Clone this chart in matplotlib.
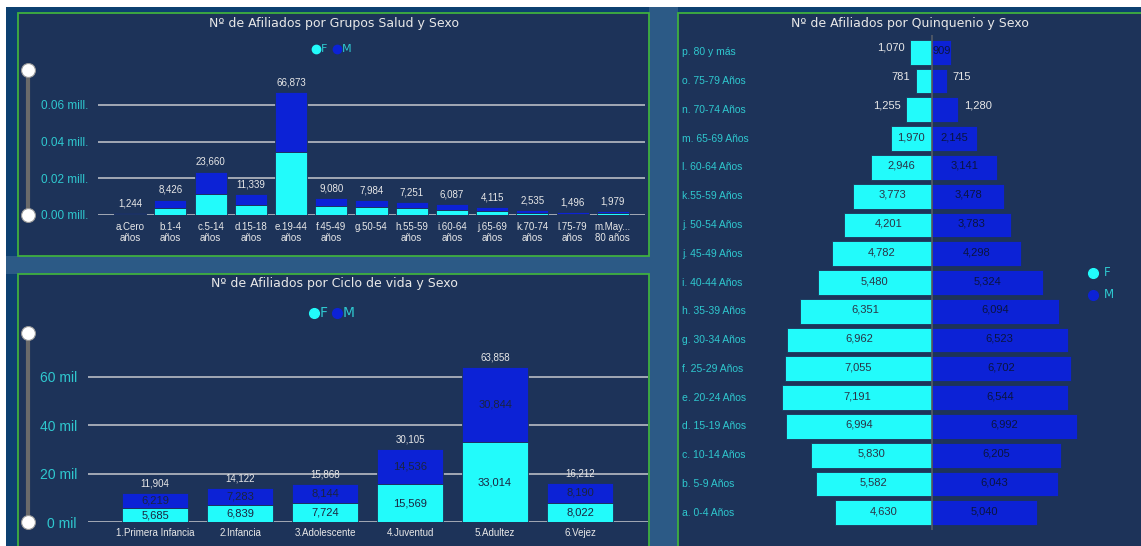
import matplotlib.pyplot as plt
import matplotlib.patches as mpatches
import matplotlib.transforms as mtrans
from matplotlib.lines import Line2D
from matplotlib.ticker import FuncFormatter

# --- data -------------------------------------------------------------
grupos = ['a.Cero\naños', 'b.1-4\naños', 'c.5-14\naños', 'd.15-18\naños', 'e.19-44\naños',
          'f.45-49\naños', 'g.50-54', 'h.55-59\naños', 'i.60-64\naños', 'j.65-69\naños',
          'k.70-74\naños', 'l.75-79\naños', 'm.May...\n80 años']
grupos_f = [590, 4040, 11412, 5600, 34433, 4782, 4201, 3773, 2946, 1970, 1255, 781, 1070]
grupos_m = [654, 4386, 12248, 5739, 32440, 4298, 3783, 3478, 3141, 2145, 1280, 715, 909]

ciclos = ['1.Primera Infancia', '2.Infancia', '3.Adolescente', '4.Juventud', '5.Adultez', '6.Vejez']
ciclos_f = [5685, 6839, 7724, 15569, 33014, 8022]
ciclos_m = [6219, 7283, 8144, 14536, 30844, 8190]

quinq = ['a. 0-4 Años', 'b. 5-9 Años', 'c. 10-14 Años', 'd. 15-19 Años', 'e. 20-24 Años',
         'f. 25-29 Años', 'g. 30-34 Años', 'h. 35-39 Años', 'i. 40-44 Años', 'j. 45-49 Años',
         'j. 50-54 Años', 'k.55-59 Años', 'l. 60-64 Años', 'm. 65-69 Años', 'n. 70-74 Años',
         'o. 75-79 Años', 'p. 80 y más']
quinq_f = [4630, 5582, 5830, 6994, 7191, 7055, 6962, 6351, 5480, 4782, 4201, 3773, 2946, 1970, 1255, 781, 1070]
quinq_m = [5040, 6043, 6205, 6992, 6544, 6702, 6523, 6094, 5324, 4298, 3783, 3478, 3141, 2145, 1280, 715, 909]

# --- style ------------------------------------------------------------
W, H = 1141, 546
CF = '#22fbfb'
CM = '#0c22d6'
PANEL = '#1d3359'
OUTER = '#0d4070'
GREEN = '#3fb03f'
TEAL = '#2fc8cf'
WHITE = '#e8e8e8'
DARK = '#1a2440'
GRID = '#b8bcc4'

plt.rcParams['font.family'] = ['DejaVu Sans']
sans = ['Liberation Sans', 'DejaVu Sans']

fig = plt.figure(figsize=(W / 100, H / 100), dpi=100)
fig.patch.set_facecolor('white')


def box(x0, y0, x1, y1):
    return [x0 / W, 1 - y1 / H, (x1 - x0) / W, (y1 - y0) / H]


def rect(x0, y0, x1, y1, fc, ec='none', lw=0, z=-2):
    r = mpatches.Rectangle((x0 / W, 1 - y1 / H), (x1 - x0) / W, (y1 - y0) / H,
                           transform=fig.transFigure, facecolor=fc, edgecolor=ec,
                           linewidth=lw, zorder=z)
    fig.add_artist(r)


def slider(x, y0, y1):
    fig.add_artist(Line2D([x / W, x / W], [1 - y0 / H, 1 - y1 / H], transform=fig.transFigure,
                          color='#6a6a6a', lw=3, zorder=3))
    fig.add_artist(Line2D([x / W, x / W], [1 - y0 / H, 1 - y1 / H], transform=fig.transFigure,
                          color='none', marker='o', markersize=10, markerfacecolor='white',
                          markeredgecolor='#999999', markeredgewidth=0.8, zorder=4))


def legend_dot(x, y, col, label, ms, fs, gap):
    fig.add_artist(Line2D([x / W], [1 - y / H], transform=fig.transFigure, marker='o',
                          markersize=ms, color=col, ls='none'))
    fig.text((x + gap) / W, 1 - y / H, label, ha='left', va='center', color=TEAL, fontsize=fs)


# background
rect(6, 7, W, H, OUTER)
rect(649, 7, 678, H, '#2c5a86')
rect(6, 256, 649, 274, '#2c5a86')
rect(18, 13, 649, 256, PANEL, GREEN, 1.3, z=-1)
rect(18, 274, 649, H + 5, PANEL, GREEN, 1.3, z=-1)
rect(678, 13, W + 5, H + 5, PANEL, GREEN, 1.3, z=-1)

# --- chart 1: grupos salud --------------------------------------------
ax1 = fig.add_axes(box(98, 70, 645, 215))
ax1.set_facecolor('none')
x = range(len(grupos))
ax1.bar(x, grupos_f, width=0.8, color=CF, edgecolor=PANEL, linewidth=0.6, zorder=3)
ax1.bar(x, grupos_m, bottom=grupos_f, width=0.8, color=CM, edgecolor=PANEL, linewidth=0.6, zorder=3)
for i in x:
    tot = grupos_f[i] + grupos_m[i]
    ax1.text(i, tot + 2500, f'{tot:,}', ha='center', va='bottom', color=WHITE,
             fontsize=7, family=sans)
ax1.set_ylim(0, 79000)
ax1.set_xlim(-0.8, 12.8)
ax1.set_yticks([0, 20000, 40000, 60000])
ax1.yaxis.set_major_formatter(FuncFormatter(lambda v, p: f'{v / 1e6:.2f} mill.'))
ax1.set_xticks(list(x))
ax1.set_xticklabels(grupos, fontsize=7, color=WHITE, family=sans, linespacing=1.1)
ax1.tick_params(axis='y', colors=TEAL, labelsize=8.5, length=0, pad=7)
ax1.tick_params(axis='x', length=0, pad=5)
for lab in ax1.get_yticklabels():
    lab.set_family(sans)
ax1.grid(axis='y', color=GRID, lw=1.2, zorder=1)
for s in ax1.spines.values():
    s.set_visible(False)
slider(28, 70, 215)
fig.text(334 / W, 1 - 23 / H, 'Nº de Afiliados por Grupos Salud y Sexo', ha='center', va='center',
         color=WHITE, fontsize=9)
legend_dot(316, 49, CF, 'F', 6, 8, 5)
legend_dot(337, 49, CM, 'M', 6, 8, 5)

# --- chart 2: ciclo de vida -------------------------------------------
ax2 = fig.add_axes(box(88, 333, 648, 522))
ax2.set_facecolor('none')
x2 = range(len(ciclos))
ax2.bar(x2, ciclos_f, width=0.78, color=CF, edgecolor=PANEL, linewidth=0.6, zorder=3)
ax2.bar(x2, ciclos_m, bottom=ciclos_f, width=0.78, color=CM, edgecolor=PANEL, linewidth=0.6, zorder=3)
for i in x2:
    f, m = ciclos_f[i], ciclos_m[i]
    ax2.text(i, f / 2, f'{f:,}', ha='center', va='center', color=DARK, fontsize=8, family=sans, zorder=4)
    ax2.text(i, f + m / 2, f'{m:,}', ha='center', va='center', color=DARK, fontsize=8, family=sans, zorder=4)
    ax2.text(i, f + m + 1800, f'{f + m:,}', ha='center', va='bottom', color=WHITE,
             fontsize=7, family=sans)
ax2.set_ylim(0, 78000)
ax2.set_xlim(-0.79, 5.8)
ax2.set_yticks([0, 20000, 40000, 60000])
ax2.yaxis.set_major_formatter(FuncFormatter(lambda v, p: f'{v / 1000:.0f} mil'))
ax2.set_xticks(list(x2))
ax2.set_xticklabels(ciclos, fontsize=7, color=WHITE, family=sans)
ax2.tick_params(axis='y', colors=TEAL, labelsize=10, length=0, pad=8)
ax2.tick_params(axis='x', length=0, pad=4)
for lab in ax2.get_yticklabels():
    lab.set_family(sans)
ax2.grid(axis='y', color=GRID, lw=1.2, zorder=1)
for s in ax2.spines.values():
    s.set_visible(False)
slider(28, 333, 522)
fig.text(334 / W, 1 - 284 / H, 'Nº de Afiliados por Ciclo de vida y Sexo', ha='center', va='center',
         color=WHITE, fontsize=9)
legend_dot(314, 313, CF, 'F', 7, 10, 6)
legend_dot(337, 313, CM, 'M', 7, 10, 6)

# --- chart 3: piramide ------------------------------------------------
ax3 = fig.add_axes(box(680, 35, 1140, 530))
ax3.set_facecolor('none')
y = range(len(quinq))
ax3.barh(y, [-v for v in quinq_f], height=0.86, color=CF, edgecolor=PANEL, linewidth=0.6)
ax3.barh(y, quinq_m, height=0.86, color=CM, edgecolor=PANEL, linewidth=0.6)
ax3.axvline(0, color='#555b66', lw=1.2)
ax3.set_xlim(-12100, 10000)
ax3.set_ylim(-0.6, len(quinq) - 0.4)
for i in y:
    f, m = quinq_f[i], quinq_m[i]
    # small bars get the label outside, in white
    if f < 1500:
        ax3.text(-f - 250, i + 0.15, f'{f:,}', ha='right', va='center', color=WHITE, fontsize=8, family=sans)
    else:
        ax3.text(-f / 2, i + 0.05, f'{f:,}', ha='center', va='center', color='#2a3346', fontsize=8, family=sans)
    if m < 1500 and m != 909:
        ax3.text(m + 250, i + 0.15, f'{m:,}', ha='left', va='center', color=WHITE, fontsize=8, family=sans)
    else:
        ax3.text(m / 2, i + 0.05, f'{m:,}', ha='center', va='center', color='#0a1540', fontsize=8, family=sans)
tr = mtrans.blended_transform_factory(ax3.transAxes, ax3.transData)
for i, lab in zip(y, quinq):
    ax3.text(0.005, i, lab, transform=tr, ha='left', va='center', color=TEAL, fontsize=7.5, family=sans)
ax3.set_xticks([])
ax3.set_yticks([])
for s in ax3.spines.values():
    s.set_visible(False)
fig.text(910 / W, 1 - 23 / H, 'Nº de Afiliados por Quinquenio y Sexo', ha='center', va='center',
         color=WHITE, fontsize=9)
legend_dot(1093, 273, CF, 'F', 7, 8.5, 11)
legend_dot(1093, 295, CM, 'M', 7, 8.5, 11)

fig.savefig('out.png', dpi=100, facecolor=fig.get_facecolor())
